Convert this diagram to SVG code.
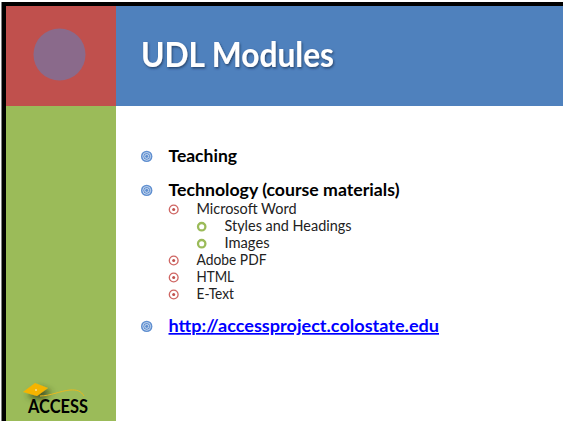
<svg xmlns="http://www.w3.org/2000/svg" width="563" height="421" viewBox="0 0 563 421">
<style>
text{font-family:Lato,"Open Sans","Liberation Sans",sans-serif;fill:#000}
.l1{font-size:17px;font-weight:700}
.l2{font-size:14.5px;fill:#222}
.red{fill:#fff;stroke:#cf6663;stroke-width:1.3}
.dot{fill:#c0504d}
.grn{fill:none;stroke:#9bbb59;stroke-width:2.3}
</style>
<defs>
<filter id="sh" x="-10%" y="-20%" width="120%" height="150%"><feDropShadow dx="1" dy="1.5" stdDeviation="0.8" flood-color="#1f3a5f" flood-opacity="0.85"/></filter>
<filter id="sh2" x="-40%" y="-40%" width="200%" height="220%"><feDropShadow dx="4" dy="4" stdDeviation="3" flood-color="#2d3a10" flood-opacity="0.8"/></filter>
<g id="b1"><circle r="5.7" fill="#5f8fd0"/><circle r="3.9" fill="none" stroke="#dfe9f5" stroke-width=".8"/><circle r="2" fill="none" stroke="#dfe9f5" stroke-width=".8"/></g>
<g id="b2"><circle r="4.4" class="red"/><circle r="1.5" class="dot"/></g>
<g id="b3"><circle r="3.7" class="grn"/></g>
</defs>
<rect width="563" height="421" fill="#fff"/>
<rect x="1.500" y="2" width="561.500" height="419" fill="#000"/>
<rect x="6" y="6" width="557" height="415" fill="#fff"/>
<rect x="6" y="106" width="110" height="315" fill="#9bbb59"/>
<rect x="116" y="6" width="447" height="100" fill="#4f81bd"/>
<g id="corner"><rect x="6" y="6" width="110" height="100" fill="#c0504d"/><circle cx="59.500" cy="54.500" r="26" fill="#8a6a8b"/></g>
<g id="title"><text x="141" y="67" font-size="35" font-weight="700" style="fill:#fff" textLength="193" lengthAdjust="spacingAndGlyphs" filter="url(#sh)">UDL Modules</text></g>
<g id="bullets">
<use href="#b1" x="146.700" y="156.400"/><text class="l1" x="168.500" y="162" textLength="68.500" lengthAdjust="spacingAndGlyphs">Teaching</text>
<use href="#b1" x="146.700" y="190.400"/><text class="l1" x="168.500" y="196" textLength="231" lengthAdjust="spacingAndGlyphs">Technology (course materials)</text>
<use href="#b2" x="173.700" y="209.500"/><text class="l2" x="196.500" y="214" textLength="100" lengthAdjust="spacingAndGlyphs">Microsoft Word</text>
<use href="#b3" x="201.700" y="226.700"/><text class="l2" x="224.500" y="231" textLength="127" lengthAdjust="spacingAndGlyphs">Styles and Headings</text>
<use href="#b3" x="201.700" y="243.700"/><text class="l2" x="224.500" y="248" textLength="45" lengthAdjust="spacingAndGlyphs">Images</text>
<use href="#b2" x="173.700" y="260.500"/><text class="l2" x="196.500" y="265" textLength="70" lengthAdjust="spacingAndGlyphs">Adobe PDF</text>
<use href="#b2" x="173.700" y="277.500"/><text class="l2" x="196.500" y="282" textLength="37.500" lengthAdjust="spacingAndGlyphs">HTML</text>
<use href="#b2" x="173.700" y="294.500"/><text class="l2" x="196.500" y="299" textLength="37.500" lengthAdjust="spacingAndGlyphs">E-Text</text>
<use href="#b1" x="146.700" y="326.400"/><text class="l1" x="168.500" y="332" textLength="270.500" lengthAdjust="spacingAndGlyphs" style="fill:#0000ff" text-decoration="underline">http://accessproject.colostate.edu</text>
</g>
<g id="logo">
<path d="M23 392 L35 383 L48 388 L37 396 Z" fill="#f5b400" filter="url(#sh2)"/>
<path d="M40 396 C50 396 60 391 70 390 C77 389.500 81 391 84 396" fill="none" stroke="#e8b820" stroke-width="1"/>
<circle cx="36" cy="390" r="0.8" fill="#fff"/>
<text x="28" y="413" font-size="19" font-weight="700" textLength="60" lengthAdjust="spacingAndGlyphs">ACCESS</text>
</g>
</svg>
